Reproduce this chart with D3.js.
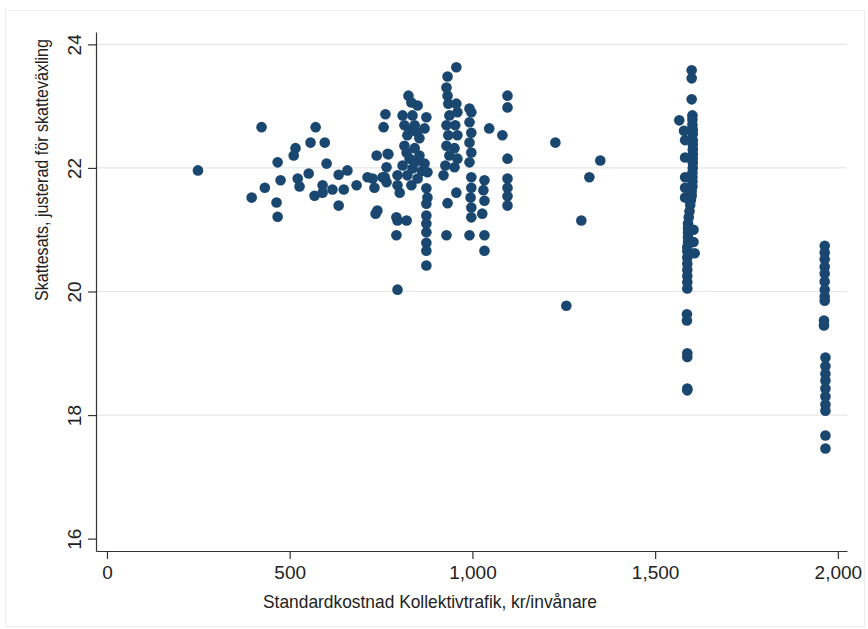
<!DOCTYPE html>
<html>
<head>
<meta charset="utf-8">
<script src="https://cdn.jsdelivr.net/npm/d3@7"></script>
<style>
  body { margin: 0; background: #fff; }
  text { font-family: "Liberation Sans", Arial, sans-serif; fill: #222; }
</style>
</head>
<body>
<div id="chart"></div>
<script>
// [kostnad, skattesats]
const lowGroup = [
  [249, 21.96], [396, 21.52], [423, 22.66], [432, 21.68], [467, 22.09], [475, 21.80],
  [464, 21.44], [467, 21.21], [511, 22.20], [516, 22.32], [522, 21.83], [527, 21.70],
  [552, 21.91], [557, 22.41], [571, 22.66], [568, 21.55], [596, 22.41], [590, 21.72],
  [590, 21.60], [601, 22.07], [617, 21.65], [634, 21.89], [648, 21.65], [634, 21.39],
  [658, 21.96], [683, 21.72], [713, 21.85], [732, 21.68], [754, 21.85], [738, 22.20],
  [727, 21.83], [740, 21.31], [735, 21.26], [762, 22.87], [757, 22.66], [770, 22.22],
  [765, 22.01], [765, 21.77], [792, 21.20], [792, 20.91], [795, 20.03], [768, 22.23],
  [760, 21.85], [795, 21.88], [795, 21.72], [801, 21.60], [795, 21.15], [820, 21.15]
];

const midGroup = [
  [825, 23.17], [833, 23.06], [850, 23.01], [809, 22.85], [836, 22.85], [874, 22.82],
  [814, 22.69], [842, 22.69], [869, 22.64], [822, 22.53], [855, 22.48], [814, 22.36],
  [842, 22.32], [828, 22.15], [855, 22.20], [809, 22.04], [836, 21.99], [869, 22.07],
  [822, 21.88], [850, 21.83], [877, 21.93], [833, 21.72], [874, 21.67], [877, 21.52],
  [874, 21.42], [874, 21.23], [874, 21.10], [874, 20.96], [874, 20.79], [874, 20.66],
  [874, 20.42], [828, 22.60], [848, 22.58], [820, 22.25], [845, 22.10], [862, 21.95],
  [956, 23.63], [932, 23.48], [929, 23.30], [932, 23.17], [934, 23.04], [956, 23.04],
  [959, 22.90], [937, 22.85], [929, 22.69], [953, 22.69], [934, 22.53], [959, 22.53],
  [929, 22.36], [951, 22.32], [937, 22.20], [959, 22.15], [926, 22.04], [951, 22.01],
  [921, 21.88], [956, 21.60], [932, 21.43], [929, 20.91],
  [992, 22.96], [997, 22.90], [992, 22.74], [997, 22.57], [992, 22.41], [997, 22.25],
  [992, 22.09], [997, 21.85], [997, 21.68], [995, 21.52], [997, 21.36], [997, 21.20],
  [992, 20.91],
  [1033, 21.80], [1030, 21.64], [1033, 21.47], [1027, 21.26], [1033, 20.91], [1033, 20.66],
  [1046, 22.64], [1082, 22.53],
  [1096, 23.17], [1096, 22.98], [1096, 22.15], [1096, 21.83], [1096, 21.68], [1096, 21.54],
  [1096, 21.39]
];

const highGroup = [
  [1227, 22.41], [1350, 22.12], [1320, 21.85], [1298, 21.15], [1257, 19.77]
];

const group1600 = [
  [1600, 23.58], [1600, 23.45], [1600, 23.11], [1602, 22.85], [1602, 22.78], [1602, 22.70],
  [1603, 22.62], [1603, 22.55], [1603, 22.45], [1603, 22.38], [1603, 22.30], [1603, 22.22],
  [1603, 22.15], [1603, 22.08], [1603, 22.00], [1602, 21.92], [1602, 21.85], [1602, 21.78],
  [1602, 21.70], [1600, 21.62], [1600, 21.55], [1598, 21.48], [1596, 21.40], [1594, 21.30],
  [1592, 21.20], [1590, 21.10], [1590, 21.02], [1590, 20.95], [1590, 20.88], [1590, 20.80],
  [1588, 20.72], [1588, 20.65], [1588, 20.55], [1588, 20.45], [1588, 20.35], [1588, 20.25],
  [1588, 20.15], [1588, 20.05],
  [1566, 22.77], [1579, 22.60], [1582, 22.45], [1582, 22.17], [1582, 21.85], [1582, 21.68],
  [1582, 21.52], [1605, 21.00], [1608, 20.62], [1605, 20.80],
  [1587, 19.63], [1587, 19.53], [1588, 19.00], [1588, 18.94], [1588, 18.43], [1588, 18.40]
];

const group2000 = [
  [1964, 20.74], [1964, 20.63], [1964, 20.52], [1964, 20.40], [1964, 20.29], [1964, 20.16],
  [1964, 20.03], [1964, 19.92], [1964, 19.85], [1962, 19.53], [1962, 19.45], [1966, 18.93],
  [1966, 18.79], [1966, 18.67], [1966, 18.56], [1966, 18.43], [1966, 18.30], [1966, 18.17],
  [1966, 18.07], [1966, 17.67], [1966, 17.46]
];

const xTicks = [0, 500, 1000, 1500, 2000];
const yTicks = [16, 18, 20, 22, 24];
const yGrid = [18, 20, 22, 24];
const xTitle = "Standardkostnad Kollektivtrafik, kr/invånare";
const yTitle = "Skattesats, justerad för skatteväxling";

const points = [].concat(lowGroup, midGroup, highGroup, group1600, group2000);

const width = 868, height = 629;
const markColor = "#1a476f";

const svg = d3.select("#chart").append("svg")
  .attr("width", width)
  .attr("height", height);

// outer frame
svg.append("rect")
  .attr("x", 5.5).attr("y", 10.5)
  .attr("width", 859).attr("height", 616)
  .attr("fill", "#fff")
  .attr("stroke", "#ececec");

const x = d3.scaleLinear().domain([-30, 2025]).range([96, 847]);
const y = d3.scaleLinear().domain([15.8, 24.2]).range([551, 32]);

// gridlines
svg.append("g")
  .selectAll("line")
  .data(yGrid)
  .join("line")
  .attr("x1", 97).attr("x2", 847)
  .attr("y1", d => y(d)).attr("y2", d => y(d))
  .attr("stroke", "#e6e6e6")
  .attr("stroke-width", 1.2);

// axes
const yAxis = svg.append("g")
  .attr("transform", "translate(96,0)")
  .call(d3.axisLeft(y).tickValues(yTicks).tickSize(8).tickSizeOuter(0));
yAxis.selectAll(".tick text")
  .attr("x", 0)
  .attr("dy", null)
  .attr("transform", "translate(-22,0) rotate(-90)")
  .attr("dominant-baseline", "central")
  .style("text-anchor", "middle")
  .style("font-size", "19px");

const xAxis = svg.append("g")
  .attr("transform", "translate(0,551)")
  .call(d3.axisBottom(x).tickValues(xTicks).tickFormat(d3.format(",")).tickSize(8).tickSizeOuter(0).tickPadding(7));
xAxis.selectAll("text").style("font-size", "19px");

svg.selectAll(".domain").attr("stroke", "#333").attr("stroke-width", 1.2);
svg.selectAll(".tick line").attr("stroke", "#333").attr("stroke-width", 1.2);
svg.selectAll(".tick text").attr("fill", "#222");

// titles
svg.append("text")
  .attr("x", 430)
  .attr("y", 608)
  .style("text-anchor", "middle")
  .style("font-size", "19px")
  .attr("textLength", 334)
  .attr("lengthAdjust", "spacingAndGlyphs")
  .text(xTitle);

svg.append("text")
  .attr("transform", "translate(48, 170) rotate(-90)")
  .style("text-anchor", "middle")
  .style("font-size", "19px")
  .attr("textLength", 262)
  .attr("lengthAdjust", "spacingAndGlyphs")
  .text(yTitle);

// markers
svg.append("g")
  .selectAll("circle")
  .data(points)
  .join("circle")
  .attr("cx", d => x(d[0]))
  .attr("cy", d => y(d[1]))
  .attr("r", 5.3)
  .attr("fill", markColor);
</script>
</body>
</html>
